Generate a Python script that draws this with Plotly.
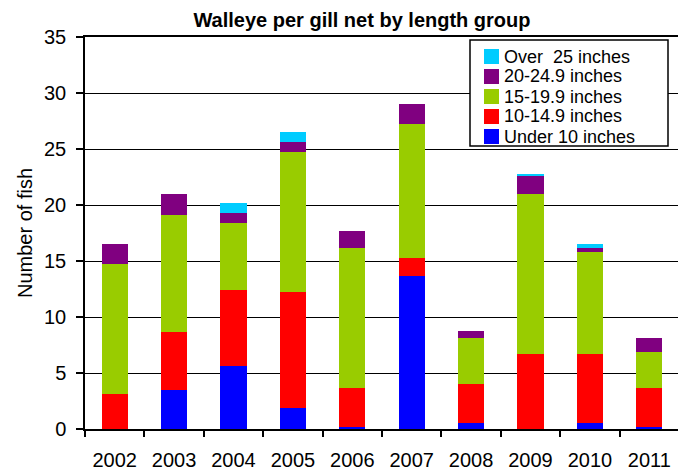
import plotly.graph_objects as go

years = ["2002", "2003", "2004", "2005", "2006", "2007", "2008", "2009", "2010", "2011"]
series_names = ["Under 10 inches", "10-14.9 inches", "15-19.9 inches", "20-24.9 inches", "Over  25 inches"]
under_10 = [0, 3.5, 5.65, 1.9, 0.2, 13.7, 0.5, 0, 0.5, 0.2]
in_10_15 = [3.15, 5.15, 6.8, 10.35, 3.5, 1.6, 3.55, 6.7, 6.2, 3.5]
in_15_20 = [11.6, 10.5, 5.9, 12.45, 12.5, 11.9, 4.1, 14.25, 9.1, 3.2]
in_20_25 = [1.8, 1.8, 0.9, 0.9, 1.45, 1.8, 0.6, 1.6, 0.35, 1.25]
over_25 = [0, 0, 0.9, 0.9, 0, 0, 0, 0.2, 0.35, 0]
colors = ["#0000FF", "#FF0000", "#99CC00", "#800080", "#00CCFF"]
values = [under_10, in_10_15, in_15_20, in_20_25, over_25]

FONT = "Liberation Sans, Arial, sans-serif"
OFF = 8  # page body margin in the browser
W, H = 686 - OFF, 474 - OFF
# plot area in window pixels: x 85..679, y 37..429
ML, MT = 85 - OFF, 37 - OFF
MR, MB = W - (679 - OFF), H - (429 - OFF)
PW, PH = W - ML - MR, H - MT - MB

def px_x(x):
    return (x - OFF - ML) / PW

def px_y(y):
    return (H - MB - (y - OFF)) / PH

fig = go.Figure()
for name, vals, col in zip(series_names, values, colors):
    fig.add_trace(go.Bar(x=years, y=vals, name=name, marker=dict(color=col, line=dict(width=0)),
                         showlegend=False))

shapes = [dict(type="rect", xref="paper", yref="paper", x0=px_x(470), x1=px_x(668),
               y0=px_y(146), y1=px_y(40), line=dict(color="black", width=1.5),
               fillcolor="white", layer="above")]
annotations = []
for k, (name, col) in enumerate(reversed(list(zip(series_names, colors)))):
    top = 49 + 20 * k
    shapes.append(dict(type="rect", xref="paper", yref="paper", x0=px_x(484), x1=px_x(499),
                       y0=px_y(top + 15), y1=px_y(top), line=dict(width=0), fillcolor=col,
                       layer="above"))
    annotations.append(dict(xref="paper", yref="paper", x=px_x(503), y=px_y(top + 7.5),
                            text=name, showarrow=False, xanchor="left", yanchor="middle",
                            borderpad=0,
                            font=dict(family=FONT, size=18, color="black")))

fig.update_layout(
    width=W, height=H, autosize=False,
    margin=dict(l=ML, r=MR, t=MT, b=MB),
    paper_bgcolor="white", plot_bgcolor="white",
    barmode="stack", bargap=0.56,
    font=dict(family=FONT, color="black"),
    title=dict(text="<b>Walleye per gill net by length group</b>", x=px_x(362), xref="paper",
               xanchor="center", y=1 - 5 / H, yref="container", yanchor="top",
               font=dict(family=FONT, size=20, color="black")),
    xaxis=dict(type="category", tickson="boundaries", ticks="outside", ticklen=6, tickwidth=1.5,
               tickcolor="black", showline=True, linecolor="black", linewidth=1.5, mirror=True,
               showgrid=False, automargin=False, ticklabelstandoff=12,
               tickfont=dict(family=FONT, size=20, color="black")),
    yaxis=dict(range=[0, 35], dtick=5, ticks="outside", ticklen=7, tickwidth=1.5, tickcolor="black",
               showline=True, linecolor="black", linewidth=1.5, mirror=True,
               showgrid=True, gridcolor="black", gridwidth=1.2, zeroline=False,
               automargin=False, ticklabelstandoff=6,
               tickfont=dict(family=FONT, size=20, color="black"),
               title=dict(text="Number of fish", font=dict(family=FONT, size=20, color="black"),
                          standoff=6)),
    shapes=shapes, annotations=annotations,
)

fig.write_html("out.html")
